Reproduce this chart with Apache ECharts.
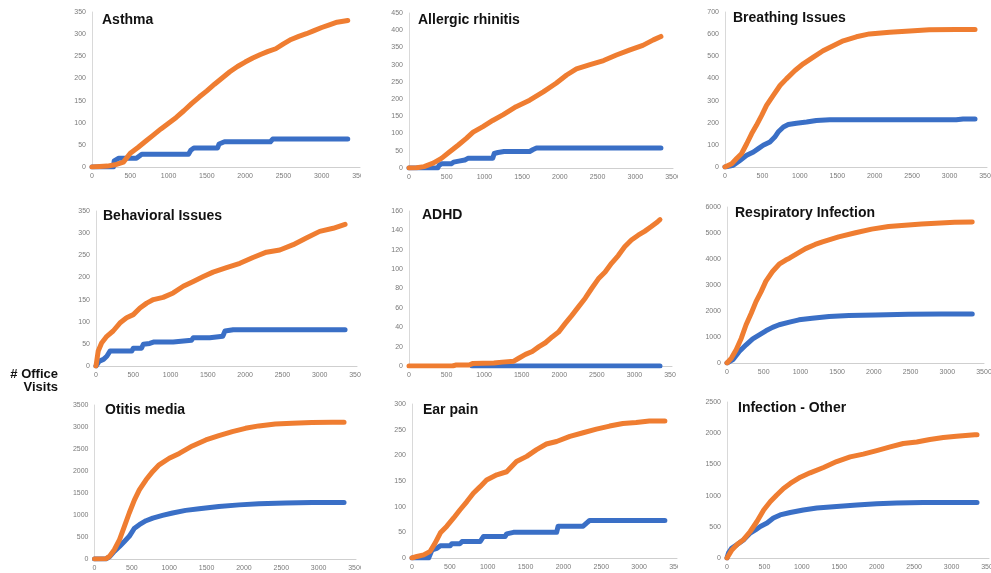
<!DOCTYPE html>
<html>
<head>
<meta charset="utf-8">
<script src="https://cdn.jsdelivr.net/npm/echarts@6/dist/echarts.min.js"></script>
<style>
html,body{margin:0;padding:0;background:#fff;}
#chart{width:991px;height:573px;}
</style>
</head>
<body>
<div id="chart"></div>
<script>
// ---- data ----
const titles = ['Asthma', 'Allergic rhinitis', 'Breathing Issues', 'Behavioral Issues', 'ADHD',
  'Respiratory Infection', 'Otitis media', 'Ear pain', 'Infection - Other'];
const yMax = [350, 450, 700, 350, 160, 6000, 3500, 300, 2500];
const yStep = [50, 50, 100, 50, 20, 1000, 500, 50, 500];
const xMax = 3500;
const xStep = 500;
const sideLabel = ['# Office', 'Visits'];

const asthmaBlue = [[0,0],[280,0],[290,14],[350,20],[580,20],[600,24],[650,29],[1260,29],[1290,38],[1330,43],[1640,43],[1660,52],[1730,57],[2330,57],[2360,63],[3340,63]];
const asthmaOrange = [[0,0],[200,2],[300,5],[410,11],[500,31],[600,44],[700,58],[800,72],[900,86],[1000,99],[1100,112],[1200,127],[1300,143],[1400,158],[1500,172],[1600,187],[1700,201],[1800,215],[1900,227],[2000,237],[2100,246],[2200,254],[2300,261],[2400,267],[2500,278],[2600,288],[2700,295],[2800,301],[2900,308],[3000,315],[3100,321],[3200,327],[3340,331]];

const allergicBlue = [[0,0],[380,0],[400,8],[430,12],[560,12],[590,17],[660,20],[740,23],[780,28],[1110,28],[1130,42],[1180,45],[1260,48],[1600,48],[1640,53],[1690,58],[3340,58]];
const allergicOrange = [[0,0],[100,1],[200,4],[320,14],[430,28],[540,47],[650,66],[760,86],[850,104],[980,120],[1110,138],[1250,155],[1420,178],[1600,197],[1780,221],[1950,246],[2090,270],[2220,288],[2400,300],[2580,312],[2750,328],[2930,343],[3100,356],[3240,372],[3340,382]];

const breathingBlue = [[0,0],[110,8],[200,30],[290,53],[380,68],[445,83],[510,98],[600,113],[665,135],[710,158],[780,181],[845,192],[955,198],[1090,203],[1220,210],[1400,213],[3090,213],[3180,217],[3340,217]];
const breathingOrange = [[0,0],[90,15],[155,38],[220,60],[290,105],[355,150],[420,188],[490,233],[555,278],[645,324],[735,368],[820,398],[935,436],[1045,466],[1180,496],[1310,525],[1445,548],[1580,570],[1755,588],[1930,601],[2200,609],[2470,614],[2730,620],[3090,621],[3340,621]];

const behavioralBlue = [[0,0],[45,11],[100,15],[145,22],[190,34],[480,34],[500,40],[610,40],[635,49],[720,51],[770,54],[1035,54],[1060,58],[1280,58],[1305,64],[1525,64],[1550,67],[1700,67],[1730,79],[1840,82],[3340,82]];
const behavioralOrange = [[0,0],[30,34],[75,52],[145,67],[230,79],[320,97],[410,109],[500,116],[590,131],[680,142],[770,150],[900,155],[1035,165],[1170,180],[1305,191],[1440,202],[1570,212],[1750,222],[1930,232],[2105,245],[2285,257],[2465,262],[2645,274],[2820,289],[3000,304],[3180,311],[3340,320]];

const adhdBlue = [[840,0],[3340,0]];
const adhdOrange = [[0,0],[580,0],[620,1],[800,1],[845,2.5],[1130,3],[1240,4],[1395,5],[1460,8],[1550,12],[1640,15],[1730,20],[1815,24],[1905,30],[1990,35],[2080,44],[2165,52],[2255,61],[2345,70],[2430,80],[2520,90],[2610,97],[2695,106],[2785,114],[2870,123],[2960,130],[3050,135],[3135,139],[3225,144],[3310,149],[3340,151]];

const respBlue = [[0,0],[80,130],[170,450],[260,700],[350,930],[440,1085],[530,1240],[620,1370],[710,1470],[850,1570],[980,1660],[1160,1720],[1390,1790],[1660,1825],[2020,1850],[2470,1875],[2920,1885],[3340,1885]];
const respOrange = [[0,0],[60,190],[125,510],[195,955],[260,1470],[330,1915],[395,2360],[465,2745],[530,3150],[620,3520],[710,3800],[800,3960],[850,4030],[1000,4280],[1070,4400],[1200,4560],[1300,4660],[1520,4850],[1750,5010],[1970,5150],[2200,5250],[2650,5350],[3100,5410],[3340,5420]];

const otitisBlue = [[0,0],[150,0],[200,50],[265,175],[335,285],[400,400],[465,515],[535,700],[600,780],[690,870],[780,930],[910,990],[1045,1045],[1220,1105],[1400,1140],[1665,1195],[1935,1230],[2200,1255],[2555,1270],[2910,1285],[3340,1285]];
const otitisOrange = [[0,0],[150,5],[200,60],[265,210],[335,440],[400,740],[465,1045],[535,1345],[600,1570],[690,1800],[780,1990],[865,2140],[1000,2290],[1135,2400],[1310,2570],[1490,2705],[1665,2805],[1845,2895],[2020,2970],[2200,3025],[2420,3070],[2645,3085],[2910,3100],[3180,3110],[3340,3110]];

const earBlue = [[0,0],[220,0],[265,16],[330,19],[375,24],[505,24],[525,28],[635,28],[660,32],[900,32],[945,42],[1230,42],[1250,47],[1340,50],[1910,50],[1930,62],[2260,62],[2305,68],[2345,73],[3340,73]];
const earOrange = [[0,0],[65,3],[155,6],[240,13],[305,29],[375,49],[460,62],[550,78],[635,94],[725,110],[810,126],[900,139],[985,152],[1120,162],[1250,168],[1380,188],[1515,198],[1645,211],[1775,222],[1910,227],[2085,237],[2260,244],[2435,251],[2610,257],[2785,262],[2960,264],[3135,267],[3340,267]];

const otherBlue = [[0,0],[20,80],[65,160],[135,215],[220,290],[310,400],[380,450],[445,505],[535,560],[620,640],[710,690],[845,730],[1020,770],[1200,800],[1465,825],[1735,850],[2000,870],[2265,882],[2620,890],[2980,890],[3340,890]];
const otherOrange = [[0,0],[65,130],[135,215],[220,295],[310,425],[400,585],[490,770],[580,905],[665,1010],[755,1115],[845,1195],[980,1295],[1110,1365],[1290,1450],[1465,1545],[1645,1620],[1820,1665],[2000,1720],[2180,1780],[2355,1835],[2535,1860],[2710,1900],[2890,1930],[3065,1950],[3310,1975],[3340,1975]];

const blueSeries = [asthmaBlue, allergicBlue, breathingBlue, behavioralBlue, adhdBlue, respBlue, otitisBlue, earBlue, otherBlue];
const orangeSeries = [asthmaOrange, allergicOrange, breathingOrange, behavioralOrange, adhdOrange, respOrange, otitisOrange, earOrange, otherOrange];

// ---- layout (pixels): plot left, top, right, bottom ----
const layout = [
  [92, 12, 360, 167], [409, 13, 673, 168], [725, 12, 987, 167],
  [96, 211, 357, 366], [409, 211, 672, 366], [727, 207, 984, 363],
  [94.5, 405, 356, 559], [412, 404, 677, 558], [727, 402, 989, 558]
];
const titlePos = [
  [102, 13], [418, 13], [733, 11],
  [103, 209], [422, 208], [735, 206],
  [105, 403], [423, 403], [738, 401]
];
const cropRects = [[361, 169], [361, 368], [361, 561], [678, 169], [676, 368], [678, 561]];
const BLUE = '#3a6fc6';
const ORANGE = '#ef7d31';
const LABEL = '#7a7a7a';

const chart = echarts.init(document.getElementById('chart'), null, {renderer: 'canvas'});

const plain = v => String(v);
const grids = layout.map(g => ({
  left: g[0], top: g[1], width: g[2] - g[0], height: g[3] - g[1],
  containLabel: false, outerBoundsMode: 'none'
}));
const xAxes = layout.map((g, i) => ({
  type: 'value', gridIndex: i, min: 0, max: xMax, interval: xStep,
  axisLine: {show: true, lineStyle: {color: '#cfcfcf', width: 1}},
  axisTick: {show: false}, splitLine: {show: false},
  axisLabel: {fontSize: 7, color: LABEL, margin: 6, formatter: plain, fontFamily: 'Liberation Sans, Arial, sans-serif'}
}));
const yAxes = layout.map((g, i) => ({
  type: 'value', gridIndex: i, min: 0, max: yMax[i], interval: yStep[i],
  axisLine: {show: true, lineStyle: {color: '#d9d9d9', width: 1}},
  axisTick: {show: false}, splitLine: {show: false},
  axisLabel: {fontSize: 7, color: LABEL, margin: 6, formatter: plain, fontFamily: 'Liberation Sans, Arial, sans-serif'}
}));
const series = [];
layout.forEach((g, i) => {
  series.push({type: 'line', xAxisIndex: i, yAxisIndex: i, data: blueSeries[i], showSymbol: false,
    lineStyle: {color: BLUE, width: 5, cap: 'round', join: 'round'}, itemStyle: {color: BLUE}, z: 2, silent: true});
  series.push({type: 'line', xAxisIndex: i, yAxisIndex: i, data: orangeSeries[i], showSymbol: false,
    lineStyle: {color: ORANGE, width: 5, cap: 'round', join: 'round'}, itemStyle: {color: ORANGE}, z: 3, silent: true});
});

const graphic = [];
titles.forEach((t, i) => {
  graphic.push({type: 'text', x: titlePos[i][0], y: titlePos[i][1], z: 50,
    style: {text: t, fill: '#111', font: 'bold 14px "Liberation Sans", Arial, sans-serif',
      textAlign: 'left', textVerticalAlign: 'top', align: 'left', verticalAlign: 'top'}});
});
graphic.push({type: 'text', x: 58, y: 368, z: 50,
  style: {text: sideLabel[0], fill: '#111', font: 'bold 13px "Liberation Sans", Arial, sans-serif',
    textAlign: 'right', textVerticalAlign: 'top', align: 'right', verticalAlign: 'top'}});
graphic.push({type: 'text', x: 58, y: 381, z: 50,
  style: {text: sideLabel[1], fill: '#111', font: 'bold 13px "Liberation Sans", Arial, sans-serif',
    textAlign: 'right', textVerticalAlign: 'top', align: 'right', verticalAlign: 'top'}});
// crop edges of cut-off panels (right-side axis labels are clipped in the reference)
cropRects.forEach(p => {
  graphic.push({type: 'rect', shape: {x: p[0], y: p[1], width: 12, height: 13}, style: {fill: '#fff'}, z: 100, silent: true});
});

chart.setOption({
  animation: false,
  backgroundColor: '#fff',
  grid: grids,
  xAxis: xAxes,
  yAxis: yAxes,
  series: series,
  graphic: graphic
});
</script>
</body>
</html>
